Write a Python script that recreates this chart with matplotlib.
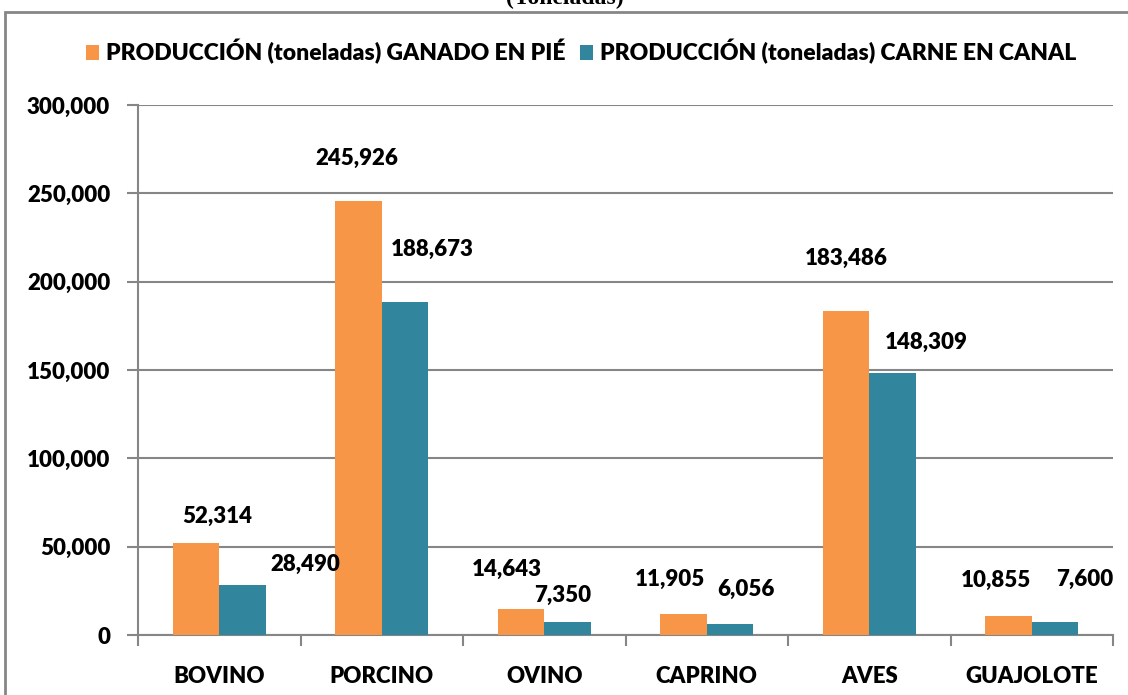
import matplotlib.pyplot as plt
import numpy as np
from matplotlib.patches import Rectangle
from matplotlib.ticker import FuncFormatter

categorias = ["BOVINO", "PORCINO", "OVINO", "CAPRINO", "AVES", "GUAJOLOTE"]
ganado_en_pie = [52314, 245926, 14643, 11905, 183486, 10855]
carne_en_canal = [28490, 188673, 7350, 6056, 148309, 7600]
series_nombres = [
    "PRODUCCIÓN (toneladas) GANADO EN PIÉ",
    "PRODUCCIÓN (toneladas) CARNE EN CANAL",
]

# desplazamientos de las etiquetas (pixeles) como en el original
dx_pie = [21, -2, -14, -14, 0, -13]
dy_pie = [26, 42, 40, 35, 52, 35]
dx_canal = [63, 27, -5, 16, 34, 30]
dy_canal = [20, 52, 27, 35, 31, 42]

NARANJA = "#F79646"
AZUL = "#31859C"
GRIS = "#868686"
PESO = "heavy"

plt.rcParams["font.family"] = ["Lato", "DejaVu Sans"]
plt.rcParams["font.weight"] = PESO

fig = plt.figure(figsize=(11.28, 6.95), dpi=100)
ax = fig.add_axes([138 / 1128, 60 / 695, 975 / 1128, 530 / 695])

x = np.arange(len(categorias))
w = 0.285
b1 = ax.bar(x - w / 2, ganado_en_pie, w, color=NARANJA, label=series_nombres[0], zorder=3)
b2 = ax.bar(x + w / 2, carne_en_canal, w, color=AZUL, label=series_nombres[1], zorder=3)

for rect, v, dx, dy in zip(b1, ganado_en_pie, dx_pie, dy_pie):
    ax.annotate(f"{v:,}", (rect.get_x() + rect.get_width() / 2, v),
                xytext=(dx, dy), textcoords="offset pixels",
                ha="center", va="center", fontsize=16, fontweight=PESO)
for rect, v, dx, dy in zip(b2, carne_en_canal, dx_canal, dy_canal):
    ax.annotate(f"{v:,}", (rect.get_x() + rect.get_width() / 2, v),
                xytext=(dx, dy), textcoords="offset pixels",
                ha="center", va="center", fontsize=16, fontweight=PESO)

ax.set_xlim(-0.5, len(categorias) - 0.5)
ax.set_ylim(0, 300000)
ax.set_yticks(range(0, 300001, 50000))
ax.yaxis.set_major_formatter(FuncFormatter(lambda v, p: f"{int(v):,}"))
ax.grid(axis="y", color=GRIS, linewidth=1.5, zorder=0)

ax.set_xticks(x)
ax.set_xticklabels(categorias)
ax.set_xticks(np.arange(-0.5, len(categorias)), minor=True)
ax.tick_params(axis="x", which="major", length=0, pad=22, labelsize=16)
ax.tick_params(axis="x", which="minor", length=8, width=1.5, color=GRIS, direction="out")
ax.tick_params(axis="y", length=8, width=1.5, color=GRIS, pad=12, labelsize=16)
for lbl in ax.get_xticklabels() + ax.get_yticklabels():
    lbl.set_fontweight(PESO)

for s in ["top", "right"]:
    ax.spines[s].set_visible(False)
for s in ["left", "bottom"]:
    ax.spines[s].set_color(GRIS)
    ax.spines[s].set_linewidth(1.5)

leg = fig.legend(handles=[b1, b2], loc="center", bbox_to_anchor=(581 / 1128, 1 - 52 / 695),
                 ncol=2, frameon=False, prop={"size": 16.5, "weight": PESO},
                 handlelength=0.6, handleheight=0.6,
                 handletextpad=0.3, columnspacing=0.6)

# borde del area del grafico
fig.patches.append(Rectangle((5 / 1128, -0.05), 1.1, 1 - 12 / 695 + 0.05,
                             transform=fig.transFigure, fill=False,
                             edgecolor=GRIS, linewidth=2))

fig.text(565 / 1128, 1 - 4 / 695, "(Toneladas)", ha="center", va="baseline",
         fontsize=17, fontweight="bold", family=["Liberation Serif", "DejaVu Serif"])

fig.savefig("out.png", dpi=100)
